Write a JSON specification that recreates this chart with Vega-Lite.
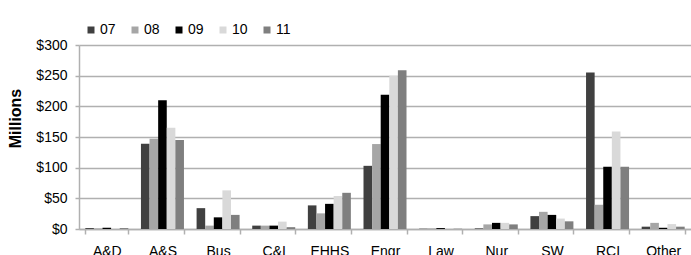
{
  "$schema": "https://vega.github.io/schema/vega-lite/v6.json",
  "width": 612,
  "height": 184,
  "autosize": {"type": "none"},
  "padding": {"left": 79, "top": 45, "right": 0, "bottom": 26},
  "background": "white",
  "config": {
    "font": "Liberation Sans",
    "view": {"stroke": null},
    "axis": {"labelFont": "Liberation Sans", "titleFont": "Liberation Sans", "labelColor": "#000", "titleColor": "#000"}
  },
  "data": {
    "values": [
      {"cat": "A&D", "year": "07", "value": 1.5},
      {"cat": "A&D", "year": "08", "value": 1},
      {"cat": "A&D", "year": "09", "value": 2},
      {"cat": "A&D", "year": "10", "value": 0.5},
      {"cat": "A&D", "year": "11", "value": 1.5},
      {"cat": "A&S", "year": "07", "value": 139},
      {"cat": "A&S", "year": "08", "value": 147},
      {"cat": "A&S", "year": "09", "value": 210},
      {"cat": "A&S", "year": "10", "value": 165},
      {"cat": "A&S", "year": "11", "value": 145},
      {"cat": "Bus", "year": "07", "value": 34},
      {"cat": "Bus", "year": "08", "value": 5.5},
      {"cat": "Bus", "year": "09", "value": 19},
      {"cat": "Bus", "year": "10", "value": 63},
      {"cat": "Bus", "year": "11", "value": 23},
      {"cat": "C&I", "year": "07", "value": 5.5},
      {"cat": "C&I", "year": "08", "value": 5.5},
      {"cat": "C&I", "year": "09", "value": 5.5},
      {"cat": "C&I", "year": "10", "value": 12},
      {"cat": "C&I", "year": "11", "value": 3},
      {"cat": "EHHS", "year": "07", "value": 38.5},
      {"cat": "EHHS", "year": "08", "value": 25.5},
      {"cat": "EHHS", "year": "09", "value": 41},
      {"cat": "EHHS", "year": "10", "value": 54},
      {"cat": "EHHS", "year": "11", "value": 59},
      {"cat": "Engr", "year": "07", "value": 103},
      {"cat": "Engr", "year": "08", "value": 138.5},
      {"cat": "Engr", "year": "09", "value": 219},
      {"cat": "Engr", "year": "10", "value": 250},
      {"cat": "Engr", "year": "11", "value": 259},
      {"cat": "Law", "year": "07", "value": 0.5},
      {"cat": "Law", "year": "08", "value": 1},
      {"cat": "Law", "year": "09", "value": 1.5},
      {"cat": "Law", "year": "10", "value": 1},
      {"cat": "Law", "year": "11", "value": 0.5},
      {"cat": "Nur", "year": "07", "value": 1},
      {"cat": "Nur", "year": "08", "value": 7.5},
      {"cat": "Nur", "year": "09", "value": 10},
      {"cat": "Nur", "year": "10", "value": 10},
      {"cat": "Nur", "year": "11", "value": 7.5},
      {"cat": "SW", "year": "07", "value": 21},
      {"cat": "SW", "year": "08", "value": 28},
      {"cat": "SW", "year": "09", "value": 23},
      {"cat": "SW", "year": "10", "value": 17},
      {"cat": "SW", "year": "11", "value": 12.5},
      {"cat": "RCI", "year": "07", "value": 255},
      {"cat": "RCI", "year": "08", "value": 39.5},
      {"cat": "RCI", "year": "09", "value": 101.5},
      {"cat": "RCI", "year": "10", "value": 159},
      {"cat": "RCI", "year": "11", "value": 101.5},
      {"cat": "Other", "year": "07", "value": 3.8},
      {"cat": "Other", "year": "08", "value": 10},
      {"cat": "Other", "year": "09", "value": 2},
      {"cat": "Other", "year": "10", "value": 8},
      {"cat": "Other", "year": "11", "value": 3.8}
    ]
  },
  "mark": {"type": "bar"},
  "encoding": {
    "x": {
      "field": "cat",
      "type": "nominal",
      "sort": null,
      "scale": {"paddingInner": 0.227, "paddingOuter": 0.1135},
      "axis": {
        "title": null,
        "labelAngle": 0,
        "labelFontSize": 14,
        "labelPadding": 10,
        "tickBand": "extent",
        "tickSize": 5,
        "tickColor": "#b0b0b0",
        "tickWidth": 1.5,
        "domainColor": "#b0b0b0",
        "domainWidth": 1.5,
        "grid": false
      }
    },
    "xOffset": {"field": "year", "type": "nominal", "sort": null},
    "y": {
      "field": "value",
      "type": "quantitative",
      "scale": {"domain": [0, 300], "nice": false},
      "axis": {
        "title": "Millions",
        "titleFontSize": 16,
        "titleFontWeight": "bold",
        "titleX": -56,
        "titleY": 73,
        "titleAngle": -90,
        "titleAlign": "center",
        "titleBaseline": "bottom",
        "values": [0, 50, 100, 150, 200, 250, 300],
        "format": "$.0f",
        "labelFontSize": 14,
        "labelPadding": 8,
        "tickSize": 4,
        "tickColor": "#b0b0b0",
        "tickWidth": 1.5,
        "domainColor": "#b0b0b0",
        "domainWidth": 1.5,
        "gridColor": "#b0b0b0",
        "gridWidth": 1.5
      }
    },
    "color": {
      "field": "year",
      "type": "nominal",
      "sort": null,
      "scale": {"domain": ["07", "08", "09", "10", "11"], "range": ["#404040", "#a6a6a6", "#000000", "#d9d9d9", "#7f7f7f"]},
      "legend": {
        "title": null,
        "orient": "none",
        "legendX": 5,
        "legendY": -22,
        "direction": "horizontal",
        "symbolType": "square",
        "symbolSize": 49,
        "symbolStrokeWidth": 0,
        "labelFontSize": 14,
        "labelOffset": 2,
        "columnPadding": 12,
        "labelColor": "#000"
      }
    }
  }
}
